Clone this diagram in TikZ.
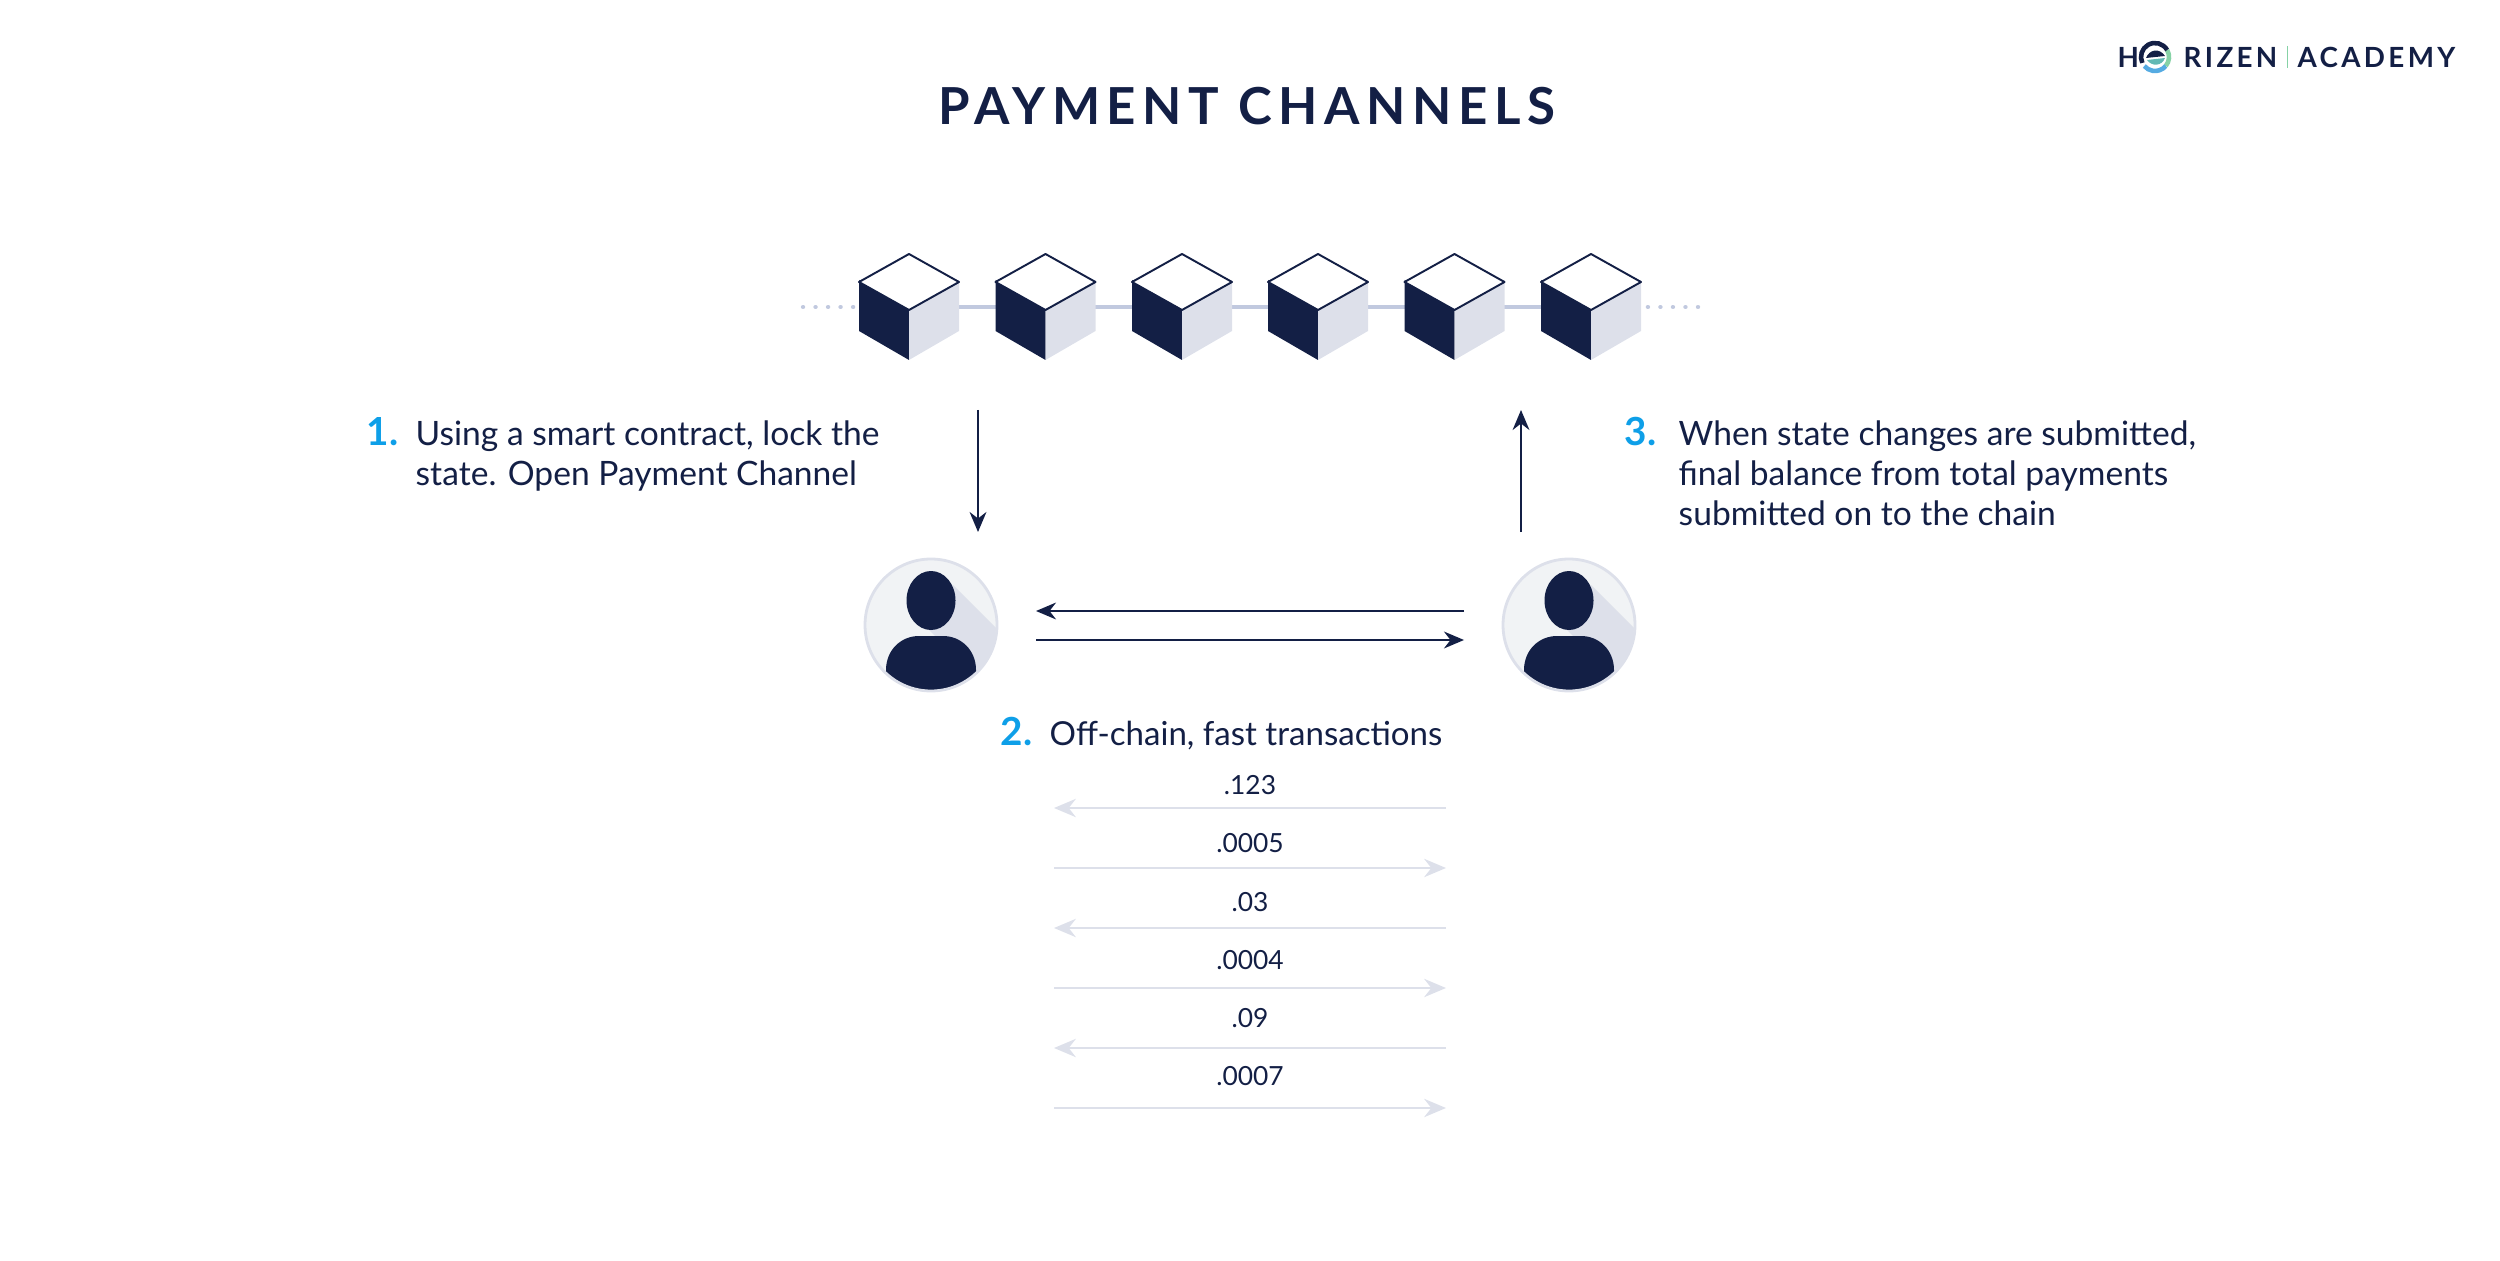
\documentclass[tikz,border=0pt]{standalone}
\usepackage{fontspec}
\usepackage{xcolor}
\setmainfont{Lato}
\usetikzlibrary{arrows.meta,positioning}
\definecolor{navy}{HTML}{131F45}
\definecolor{skyblue}{HTML}{0E9FE8}
\definecolor{paleline}{HTML}{DDE0EA}
\definecolor{chainline}{HTML}{C1C9DF}
\definecolor{discfill}{HTML}{F1F3F5}
\definecolor{logogreen}{HTML}{86D2A6}
\definecolor{logoblue}{HTML}{55ABE2}
\definecolor{logoteal}{HTML}{62B9B4}
\begin{document}
\begin{tikzpicture}[
  x=0.01cm, y=-0.01cm,
  title/.style={text=navy, font=\fontsize{14.5}{16}\selectfont\bfseries\addfontfeatures{LetterSpace=13}},
  logotxt/.style={text=navy, inner sep=0pt, font=\fontsize{7.9}{9}\selectfont\bfseries\addfontfeatures{LetterSpace=12}},
  stepnum/.style={text=skyblue, anchor=west, inner sep=0pt, font=\fontsize{11}{13}\selectfont\bfseries},
  steptxt/.style={text=navy, anchor=west, inner sep=0pt, align=left, font=\fontsize{9.55}{11.38}\selectfont},
  amount/.style={text=navy, inner sep=0pt, font=\fontsize{7.5}{9}\selectfont},
  darkarrow/.style={-{Stealth[length=5.7pt,width=4.8pt]}, navy, line width=0.55pt},
  palearrow/.style={-{Stealth[length=6.2pt,width=5.2pt]}, paleline, line width=0.7pt},
  chain/.style={chainline, line width=1.1pt},
  chaindots/.style={chainline, line width=1.25pt, line cap=round, dash pattern=on 0.01pt off 3.55pt},
  cube/.pic={
    \fill[navy] (-50,-27) -- (0,2) -- (0,53) -- (-50,24) -- cycle;
    \fill[paleline] (50,-27) -- (0,2) -- (0,53) -- (50,24) -- cycle;
    \draw[navy, fill=white, line width=0.55pt, line join=round] (0,-53) -- (50,-25) -- (0,3) -- (-50,-25) -- cycle;
  },
  usr/.pic={
    \fill[discfill] (0,0) circle[radius=66];
    \begin{scope}
      \clip (0,0) circle[radius=65];
      \fill[paleline] (22,-40) -- (70,8) -- (70,70) -- (5,70) -- (5,12) -- (-15,-8) -- cycle;
      \fill[navy] (-45,45) .. controls (-45,25) and (-30,11) .. (-12,11) -- (12,11)
        .. controls (30,11) and (45,25) .. (45,45) -- (45,70) -- (-45,70) -- cycle;
    \end{scope}
    \fill[navy] (0,-24.5) ellipse[x radius=24.5, y radius=29.5];
    \draw[paleline, line width=0.8pt] (0,0) circle[radius=66];
  }
]
  \useasboundingbox (0,0) rectangle (2500,1261);

  \node[title] (heading) at (1247,106) {PAYMENT CHANNELS};

  % logo
  \node[logotxt, anchor=west] (logoh) at (2117,57) {H};
  \node[logotxt, anchor=west] (logoz) at (2183,57) {RIZEN};
  \node[logotxt, anchor=east] (logoa) at (2456,57) {ACADEMY};
  \draw[logogreen, line width=0.25pt] (2287,46) -- (2287,68);
  \draw[logogreen, line width=1.3pt] (2155,57) ++(-30:14) arc[start angle=-30, end angle=40, radius=14];
  \draw[logoblue, line width=1.3pt] (2155,57) ++(40:14) arc[start angle=40, end angle=140, radius=14];
  \draw[navy, line width=1.3pt] (2155,57) ++(-30:14) arc[start angle=-30, end angle=-205, radius=14];
  \fill[navy] (2146,58) .. controls (2149,50) and (2159,47) .. (2165,56) -- cycle;
  \fill[logoteal] (2147,60) -- (2165,58) .. controls (2162,66) and (2152,67) .. (2147,60) -- cycle;

  % chain
  \node[inner sep=0pt] (blk1) at (909,307) {};
  \node[inner sep=0pt] (blk2) at (1045.5,307) {};
  \node[inner sep=0pt] (blk3) at (1182,307) {};
  \node[inner sep=0pt] (blk4) at (1318,307) {};
  \node[inner sep=0pt] (blk5) at (1454.5,307) {};
  \node[inner sep=0pt] (blk6) at (1591,307) {};
  \coordinate (chainl) at (803,307);
  \coordinate (chainr) at (1698,307);
  \draw[chaindots] (chainl) -- ++(56,0);
  \draw[chaindots] (chainr) -- ++(-56,0);
  \draw[chain] (blk1) -- (blk2);
  \draw[chain] (blk2) -- (blk3);
  \draw[chain] (blk3) -- (blk4);
  \draw[chain] (blk4) -- (blk5);
  \draw[chain] (blk5) -- (blk6);
  \foreach \i in {1,...,6}
    \pic at (blk\i) {cube};

  % users
  \node[circle, inner sep=0pt, minimum size=1.32cm] (usera) at (931,625) {};
  \node[circle, inner sep=0pt, minimum size=1.32cm] (userb) at (1569,625) {};
  \pic at (usera) {usr};
  \pic at (userb) {usr};

  % steps
  \node[stepnum] (num1) at (366,432) {1.};
  \node[steptxt] (txt1) at (415,456) {Using a smart contract, lock the\\state. Open Payment Channel};
  \node[stepnum] (num2) at (1000,731) {2.};
  \node[steptxt, font=\fontsize{9.4}{11.38}\selectfont] (txt2) at (1049,736) {Off-chain, fast transactions};
  \node[stepnum] (num3) at (1624,432) {3.};
  \node[steptxt] (txt3) at (1678,473) {When state changes are submitted,\\final balance from total payments\\submitted on to the chain};

  % arrows
  \coordinate (locktop) at (978,410);
  \coordinate (lockbot) at (978,532);
  \coordinate (settop) at (1521,410);
  \coordinate (setbot) at (1521,532);
  \draw[darkarrow] (locktop) -- (lockbot);
  \draw[darkarrow] (setbot) -- (settop);
  \coordinate (backl) at (1036,611);
  \coordinate (backr) at (1464,611);
  \coordinate (forthl) at (1036,640);
  \coordinate (forthr) at (1464,640);
  \draw[darkarrow] (backr) -- (backl);
  \draw[darkarrow] (forthl) -- (forthr);

  % payments
  \foreach \i/\yy/\ty/\amt in {1/808/785/.123, 2/868/843/.0005, 3/928/902/.03, 4/988/960/.0004, 5/1048/1018/.09, 6/1108/1076/.0007} {
    \node[amount] (amt\i) at (1250,\ty) {\amt};
    \coordinate (payl\i) at (1054,\yy);
    \coordinate (payr\i) at (1446,\yy);
  }
  \draw[palearrow] (payr1) -- (payl1);
  \draw[palearrow] (payl2) -- (payr2);
  \draw[palearrow] (payr3) -- (payl3);
  \draw[palearrow] (payl4) -- (payr4);
  \draw[palearrow] (payr5) -- (payl5);
  \draw[palearrow] (payl6) -- (payr6);
\end{tikzpicture}
\end{document}
